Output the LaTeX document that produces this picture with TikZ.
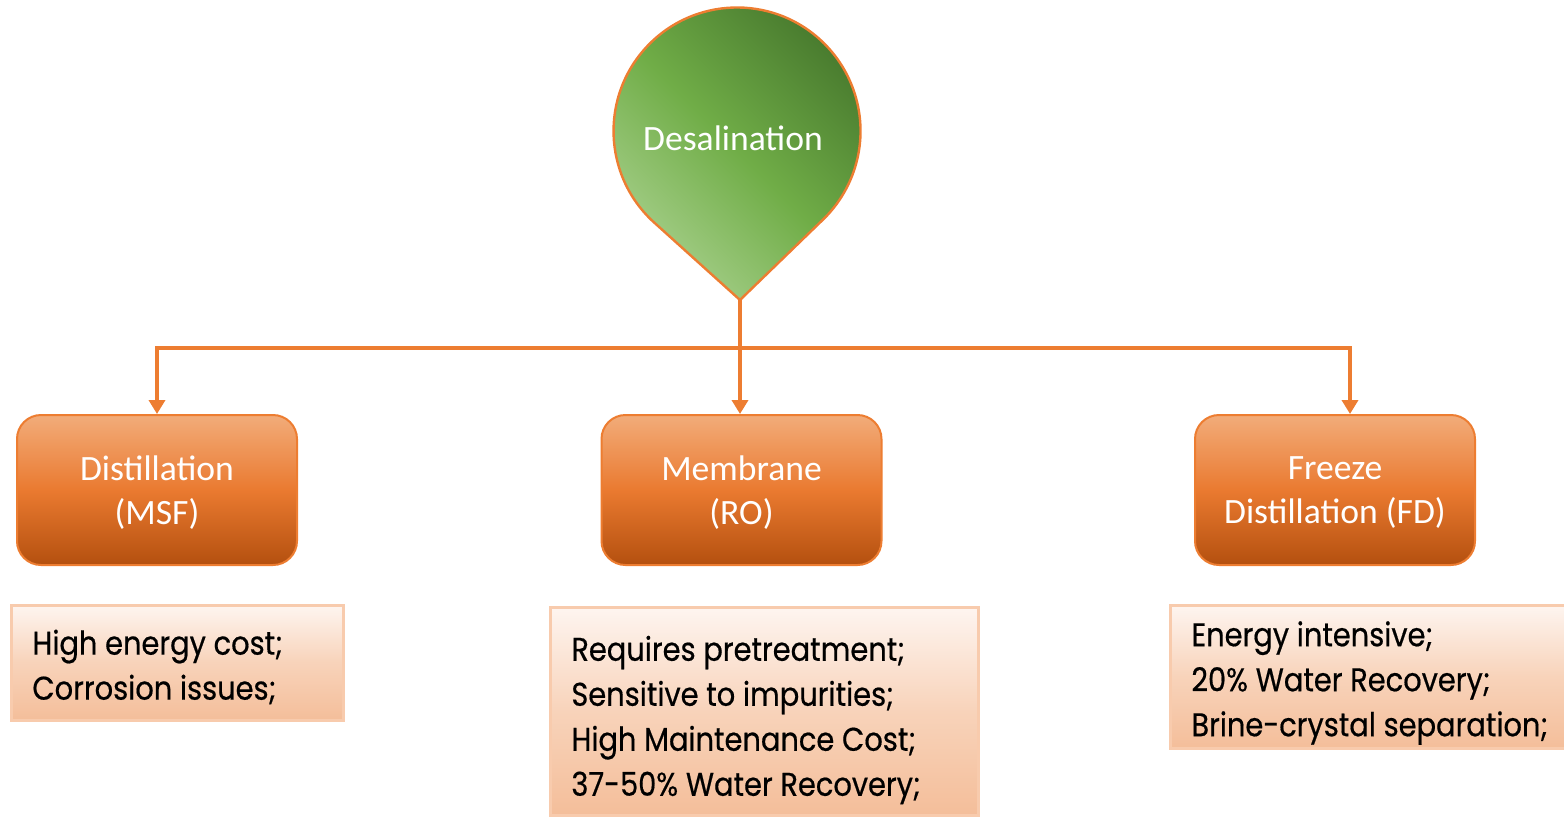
\documentclass[tikz,border=0pt]{standalone}
\usepackage{fontspec}
\setmainfont{Carlito}
\newfontfamily\bodyfont[FakeStretch=0.88,FakeBold=0.5]{Poppins}
\usetikzlibrary{arrows.meta}
\definecolor{acc}{HTML}{ED7D31}
\definecolor{gdark}{HTML}{487A2E}
\definecolor{gmid}{HTML}{70AD47}
\definecolor{glight}{HTML}{A9D18E}
\definecolor{otop}{HTML}{F2AC7A}
\definecolor{omid}{HTML}{EA7A30}
\definecolor{obot}{HTML}{B4500F}
\definecolor{ptop}{HTML}{FEF5F0}
\definecolor{pmid}{HTML}{F8D3BA}
\definecolor{pbot}{HTML}{F4BE9A}
\definecolor{pedge}{HTML}{F8CBAD}
\tikzset{
  wire/.style={draw=acc, line width=2pt, line join=miter, -{Triangle[width=8pt,length=7pt]}},
  obox/.style={rectangle, rounded corners=12pt, draw=acc, line width=1pt,
    top color=otop, bottom color=obot, middle color=omid,
    minimum width=140pt, minimum height=75pt},
  otext/.style={text=white, align=center, font=\fontsize{17.8}{22}\selectfont},
  pbox/.style={rectangle, draw=pedge, line width=1.5pt,
    top color=ptop, bottom color=pbot, middle color=pmid},
  ptext/.style={anchor=west, align=left, inner sep=0pt, text=black,
    font=\bodyfont\fontsize{16.4}{22.5}\selectfont},
}
\begin{document}
\begin{tikzpicture}[x=0.5pt,y=0.5pt]
\useasboundingbox (0,0) rectangle (1564,-816);
\clip (0,0) rectangle (1564,-816);
% teardrop
\shadedraw[shading=axis, top color=gdark, bottom color=glight, middle color=gmid,
  shading angle=-45, draw=acc, line width=1.2pt]
  (740,-300) -- (652.8,-221.3) arc[start angle=227, end angle=-47, radius=123.5] -- cycle;
\node[text=white, font=\fontsize{17.8}{22}\selectfont] (top) at (733,-138) {Desalination};
\coordinate (tip) at (740,-300);
\coordinate (bus) at (740,-348);
% boxes
\node[obox] (b1) at (157,-490) {};
\node[obox] (b2) at (741.5,-490) {};
\node[obox] (b3) at (1335,-490) {};
\node[otext] (l1) at (157,-493) {Distillation\\(MSF)};
\node[otext] (l2) at (741.5,-493) {Membrane\\(RO)};
\node[otext] (l3) at (1335,-493) {Freeze\\Distillation (FD)};
\coordinate (j3) at ([xshift=7.5pt]b3.north);
% connectors
\draw[wire] (tip) -- (tip |- b2.north);
\draw[wire] (bus) -| (b1.north);
\draw[wire] (bus) -| (j3);
% notes
\node[pbox, minimum width=166pt, minimum height=57.5pt] (n1) at (177,-662.5) {};
\node[pbox, minimum width=214pt, minimum height=104pt] (n2) at (764,-711) {};
\node[pbox, minimum width=200pt, minimum height=71.5pt] (n3) at (1370,-676.5) {};
\node[ptext] (t1) at (32,-667) {High energy cost;\\Corrosion issues;};
\node[ptext] (t2) at (571,-720) {Requires pretreatment;\\Sensitive to impurities;\\High Maintenance Cost;\\37-50\% Water Recovery;};
\node[ptext] (t3) at (1191,-683) {Energy intensive;\\20\% Water Recovery;\\Brine-crystal separation;};
\end{tikzpicture}
\end{document}
